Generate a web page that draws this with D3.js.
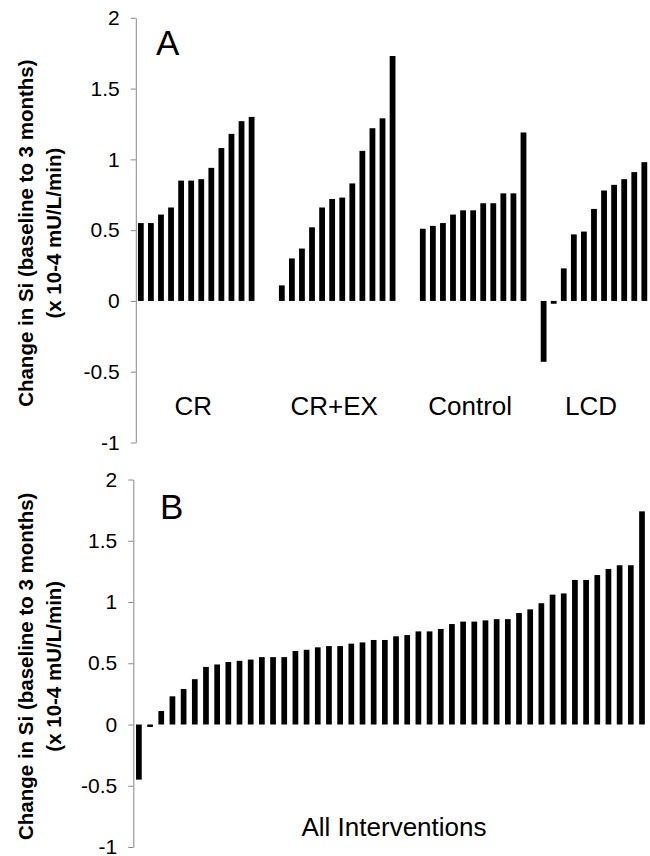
<!DOCTYPE html>
<html lang="en">
<head>
<meta charset="utf-8">
<script src="https://d3js.org/d3.v7.min.js"></script>
<style>
  body { margin: 0; background: #fff; }
  text { font-family: "Liberation Sans", Arial, sans-serif; fill: #000; }
</style>
</head>
<body>
<div id="my_dataviz"></div>
<script>

// ---- data ----
var groups = ["CR", "CR+EX", "Control", "LCD"];
var crValues      = [0.55, 0.55, 0.61, 0.66, 0.85, 0.85, 0.86, 0.94, 1.08, 1.18, 1.27, 1.30];
var crexValues    = [0.11, 0.30, 0.37, 0.52, 0.66, 0.72, 0.73, 0.83, 1.06, 1.22, 1.29, 1.73];
var controlValues = [0.51, 0.53, 0.55, 0.61, 0.64, 0.64, 0.69, 0.69, 0.76, 0.76, 1.19];
var lcdValues     = [-0.43, -0.02, 0.23, 0.47, 0.49, 0.65, 0.78, 0.82, 0.86, 0.91, 0.98];
var allValues = [-0.45, -0.02, 0.11, 0.23, 0.29, 0.37, 0.47, 0.49, 0.51, 0.52, 0.53, 0.55,
                 0.55, 0.55, 0.60, 0.61, 0.63, 0.64, 0.64, 0.66, 0.67, 0.69, 0.69, 0.72,
                 0.73, 0.76, 0.76, 0.78, 0.82, 0.84, 0.84, 0.85, 0.86, 0.86, 0.91, 0.94,
                 0.99, 1.06, 1.07, 1.18, 1.18, 1.22, 1.27, 1.30, 1.30, 1.74];
var yTicks = [-1, -0.5, 0, 0.5, 1, 1.5, 2];
var titleLines = ["Change in Si (baseline to 3 months)", "(x 10-4 mU/L/min)"];

// empty slots left before each group in panel A
var gapSlots = [0, 2, 2, 1];

var W = 650, H = 856;
var axisGrey = "#878787";

var svg = d3.select("#my_dataviz")
  .append("svg")
    .attr("width", W)
    .attr("height", H);

// build the bar list for panel A (one slot per bar, blanks between groups)
var groupValues = [crValues, crexValues, controlValues, lcdValues];
var barsA = [], groupSlots = [];
var slot = 0;
groups.forEach(function(g, gi) {
  slot += gapSlots[gi];
  var first = slot;
  groupValues[gi].forEach(function(v) {
    barsA.push({slot: slot, value: v, group: g});
    slot++;
  });
  groupSlots.push([first, slot - 1]);
});
var nSlotsA = slot;

function drawPanel(cfg) {
  var g = svg.append("g");

  var x = d3.scaleBand()
    .domain(d3.range(cfg.nSlots))
    .range([cfg.left, cfg.left + cfg.nSlots * cfg.pitch])
    .padding(0);

  var y = d3.scaleLinear()
    .domain([-1, 2])
    .range([cfg.bottom, cfg.top]);

  var barW = x.bandwidth() * cfg.barRatio;

  // bars
  g.append("g")
    .selectAll("rect")
    .data(cfg.bars)
    .enter()
    .append("rect")
      .attr("x", function(d) { return x(d.slot) + (x.bandwidth() - barW) / 2; })
      .attr("y", function(d) { return y(Math.max(0, d.value)); })
      .attr("width", barW)
      .attr("height", function(d) { return Math.abs(y(d.value) - y(0)); })
      .style("fill", "#000");

  // y axis
  var ax = g.append("g")
    .attr("transform", "translate(" + cfg.left + ",0)")
    .call(d3.axisLeft(y)
      .tickValues(yTicks)
      .tickSize(5)
      .tickSizeOuter(0)
      .tickPadding(11)
      .tickFormat(function(d) { return String(d); }));
  ax.select(".domain").attr("stroke", axisGrey);
  ax.selectAll(".tick line").attr("stroke", axisGrey);
  ax.selectAll(".tick text")
    .style("font-size", "21px")
    .style("font-family", "'Liberation Sans', Arial, sans-serif")
    .attr("fill", "#000");

  // y title, two rotated lines
  var midY = (cfg.top + cfg.bottom) / 2 + 3;
  titleLines.forEach(function(t, i) {
    g.append("text")
      .attr("transform", "translate(" + (32.5 + i * 28) + "," + midY + ") rotate(-90)")
      .attr("text-anchor", "middle")
      .style("font-size", "20.5px")
      .style("font-weight", "bold")
      .text(t);
  });

  // panel letter
  g.append("text")
    .attr("x", cfg.letterX)
    .attr("y", cfg.letterY)
    .style("font-size", "35px")
    .text(cfg.letter);

  return {x: x, y: y};
}

// Panel A
var a = drawPanel({
  nSlots: nSlotsA, bars: barsA,
  left: 135.8, pitch: 10.07, barRatio: 0.575,
  top: 17.8, bottom: 442.5,
  letter: "A", letterX: 156, letterY: 55
});

groups.forEach(function(g, gi) {
  var s = groupSlots[gi];
  var cx = (a.x(s[0]) + a.x(s[1]) + a.x.bandwidth()) / 2;
  svg.append("text")
    .attr("x", cx - 3)
    .attr("y", 415)
    .attr("text-anchor", "middle")
    .style("font-size", "26px")
    .text(g);
});

// Panel B
var barsB = allValues.map(function(v, i) { return {slot: i, value: v}; });
var b = drawPanel({
  nSlots: allValues.length, bars: barsB,
  left: 133.3, pitch: 11.18, barRatio: 0.51,
  top: 479.5, bottom: 847,
  letter: "B", letterX: 160, letterY: 519
});

svg.append("text")
  .attr("x", 394)
  .attr("y", 836)
  .attr("text-anchor", "middle")
  .style("font-size", "26px")
  .text("All Interventions");

</script>
</body>
</html>
